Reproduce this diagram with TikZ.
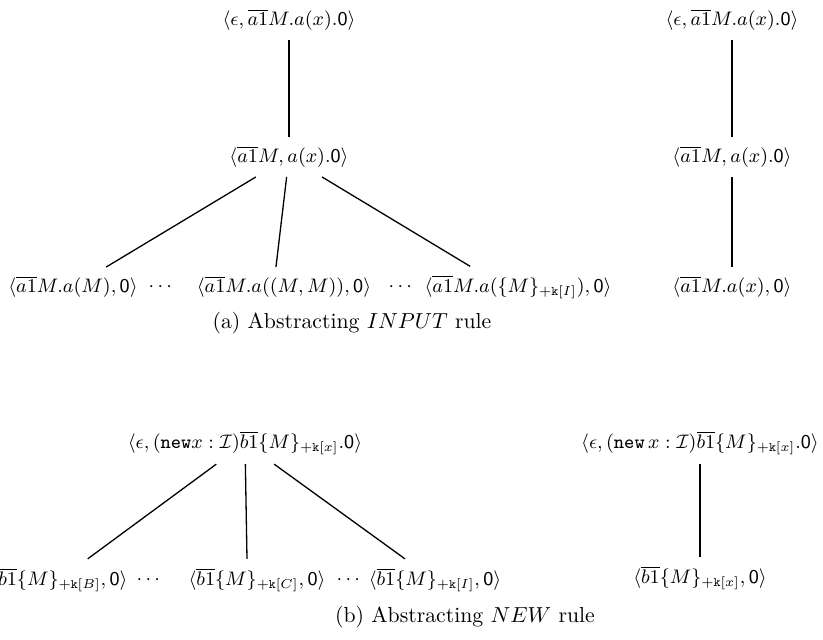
\documentclass[tikz,border=0pt]{standalone}
\usepackage{amsmath}
\usepackage{amssymb}
\usepackage{tikz}
\usetikzlibrary{positioning}
\newcommand{\nil}{\mathsf{0}}
\newcommand{\chanA}{\overline{a1}}
\newcommand{\chanB}{\overline{b1}}
\newcommand{\kw}[1]{\mathtt{#1}}
\tikzset{
    stateNode/.style={
        font=\small,
        inner sep=4pt
    },
    dotsNode/.style={font=\small, inner sep=0pt},
    capNode/.style={font=\normalsize, inner sep=0pt},
    % Edges
    treeEdge/.style={line width=0.6pt, draw=black}
}

\begin{document}
\begin{tikzpicture}[x=0.46pt, y=-0.46pt]
    \useasboundingbox (0,0) rectangle (823,639);
    % (a) input rule, abstracted tree
    \node[stateNode] (a0) at (289,20) {$\langle \epsilon, \chanA M.a(x).\nil\rangle$};
    \node[stateNode] (a1) at (289,157) {$\langle \chanA M, a(x).\nil\rangle$};
    \foreach \i/\x/\term in {1/73/{M}, 2/284/{(M,M)}, 3/518/{\{M\}_{+\kw{k}[I]}}} {
        \node[stateNode] (aL\i) at (\x,287) {$\langle \chanA M.a(\term), \nil\rangle$};
    }
    \node[dotsNode] (aD1) at (162,287) {$\cdots$};
    \node[dotsNode] (aD2) at (402,287) {$\cdots$};
    \draw[treeEdge] (a0) -- (a1);
    \draw[treeEdge] (a1) -- (aL1);
    \draw[treeEdge] (a1) -- ([xshift=-3.7pt]aL2.north);
    \draw[treeEdge] (a1) -- ([xshift=-22pt]aL3.north);
    % (a) concrete trace
    \node[stateNode] (ar0) at (732,20) {$\langle \epsilon, \chanA M.a(x).\nil\rangle$};
    \node[stateNode] (ar1) at (732,157) {$\langle \chanA M, a(x).\nil\rangle$};
    \node[stateNode] (ar2) at (732,287) {$\langle \chanA M.a(x), \nil\rangle$};
    \draw[treeEdge] (ar0) -- (ar1);
    \draw[treeEdge] (ar1) -- (ar2);
    \node[capNode] (capA) at (352,323) {(a) Abstracting $INPUT$ rule};

    % (b) new rule, abstracted tree
    \node[stateNode] (b0) at (245,443) {$\langle \epsilon, (\kw{new}x:\mathcal{I})\chanB\{M\}_{+\kw{k}[x]}.\nil\rangle$};
    \foreach \i/\x/\name in {1/59/B, 2/257/C, 3/435/I} {
        \node[stateNode] (bL\i) at (\x,580) {$\langle \chanB\{M\}_{+\kw{k}[\name]}, \nil\rangle$};
    }
    \node[dotsNode] (bD1) at (150,580) {$\cdots$};
    \node[dotsNode] (bD2) at (350,580) {$\cdots$};
    \draw[treeEdge] (b0) -- (bL1);
    \draw[treeEdge] (b0) -- ([xshift=-4.6pt]bL2.north);
    \draw[treeEdge] (b0) -- ([xshift=-13.8pt]bL3.north);
    % (b) concrete trace
    \node[stateNode] (br0) at (700,443) {$\langle \epsilon, (\kw{new}\,x:\mathcal{I})\chanB\{M\}_{+\kw{k}[x]}.\nil\rangle$};
    \node[stateNode] (br1) at (700,578) {$\langle \chanB\{M\}_{+\kw{k}[x]}, \nil\rangle$};
    \draw[treeEdge] (br0) -- (br1);
    \node[capNode] (capB) at (465,617) {(b) Abstracting $NEW$ rule};
\end{tikzpicture}
\end{document}
